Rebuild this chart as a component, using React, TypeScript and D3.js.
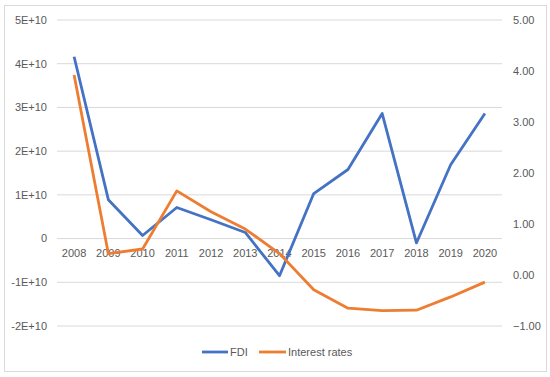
import React from 'react';
import * as d3 from 'd3';

const years = ['2008', '2009', '2010', '2011', '2012', '2013', '2014', '2015', '2016', '2017', '2018', '2019', '2020'];
const fdi = [4.16e10, 0.89e10, 0.07e10, 0.71e10, 0.43e10, 0.14e10, -0.85e10, 1.03e10, 1.58e10, 2.86e10, -0.1e10, 1.69e10, 2.86e10];
const interestRates = [3.92, 0.42, 0.51, 1.65, 1.24, 0.9, 0.42, -0.29, -0.65, -0.7, -0.69, -0.43, -0.14];
const leftTicks = [5e10, 4e10, 3e10, 2e10, 1e10, 0, -1e10, -2e10];
const leftTickLabels = ['5E+10', '4E+10', '3E+10', '2E+10', '1E+10', '0', '-1E+10', '-2E+10'];
const rightTicks = [5, 4, 3, 2, 1, 0, -1];

const W = 550;
const H = 377;
const plot = { left: 57, right: 502, top: 20, bottom: 326 };
const font = '"Liberation Sans", Arial, sans-serif';
const textColor = '#595959';

export default function App() {
  const x = d3.scaleBand().domain(years).range([plot.left, plot.right]);
  const yLeft = d3.scaleLinear().domain([-2e10, 5e10]).range([plot.bottom, plot.top]);
  const yRight = d3.scaleLinear().domain([-1, 5]).range([plot.bottom, plot.top]);
  const cx = (y: string) => (x(y) as number) + x.bandwidth() / 2;

  const fdiLine = d3.line<number>()
    .x((_, i) => cx(years[i]))
    .y((d) => yLeft(d));
  const rateLine = d3.line<number>()
    .x((_, i) => cx(years[i]))
    .y((d) => yRight(d));

  return (
    <svg width={W} height={H} style={{ position: 'absolute', left: 0, top: 0, background: '#fff' }} fontFamily={font}>
      <rect x={4.5} y={5.5} width={542} height={366} fill="#fff" stroke="#d9d9d9" />
      {leftTicks.map((t, i) => (
        <g key={t}>
          <line x1={plot.left} x2={plot.right} y1={yLeft(t)} y2={yLeft(t)} stroke="#d9d9d9" strokeWidth={1} />
          <text x={47} y={yLeft(t)} dy="0.35em" textAnchor="end" fontSize={11} fill={textColor}>
            {leftTickLabels[i]}
          </text>
        </g>
      ))}
      {rightTicks.map((t) => (
        <text key={t} x={513} y={yRight(t)} dy="0.35em" fontSize={11} fill={textColor}>
          {d3.format('.2f')(t)}
        </text>
      ))}
      {years.map((yr) => (
        <text key={yr} x={cx(yr)} y={yLeft(0) + 15} dy="0.35em" textAnchor="middle" fontSize={11} fill={textColor}>
          {yr}
        </text>
      ))}
      <path d={fdiLine(fdi) ?? ''} fill="none" stroke="#4472C4" strokeWidth={2.8} strokeLinejoin="round" />
      <path d={rateLine(interestRates) ?? ''} fill="none" stroke="#ED7D31" strokeWidth={2.8} strokeLinejoin="round" />
      <g>
        <line x1={202} x2={228} y1={352} y2={352} stroke="#4472C4" strokeWidth={2.8} />
        <text x={230} y={352} dy="0.35em" fontSize={11} fill={textColor}>FDI</text>
        <line x1={259} x2={286} y1={352} y2={352} stroke="#ED7D31" strokeWidth={2.8} />
        <text x={288} y={352} dy="0.35em" fontSize={11} fill={textColor}>Interest rates</text>
      </g>
    </svg>
  );
}
